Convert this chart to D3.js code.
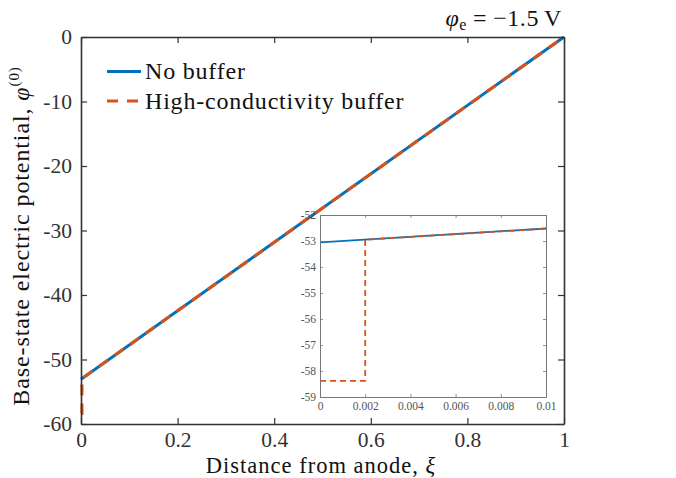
<!DOCTYPE html>
<html><head><meta charset="utf-8">
<script src="https://cdn.jsdelivr.net/npm/d3@7"></script>
</head><body style="margin:0;background:#fff">
<svg id="c" width="676" height="478"></svg>
<script>
const xTicks = [0, 0.2, 0.4, 0.6, 0.8, 1];
const yTicks = [0, -10, -20, -30, -40, -50, -60];
const insetXTicks = [0, 0.002, 0.004, 0.006, 0.008, 0.01];
const insetYTicks = [-52, -53, -54, -55, -56, -57, -58, -59];
const noBufferX = [0, 1];
const noBufferY = [-53.05, 0];
const bufferX = [0, 0.002, 0.002, 1];
const bufferY = [-58.38, -58.38, -52.95, 0];
const seriesNames = ["No buffer", "High-conductivity buffer"];
const colors = ["#0072BD", "#D95319"];

const SERIF = "Liberation Serif";
const svg = d3.select("#c");
const L = 81, R = 564, T = 37, B = 424;
const x = d3.scaleLinear().domain([0, 1]).range([L, R]);
const y = d3.scaleLinear().domain([-60, 0]).range([B, T]);
const axisCol = "#333";

const noBuf = noBufferX.map((v, i) => [v, noBufferY[i]]);
const buf = bufferX.map((v, i) => [v, bufferY[i]]);

// main lines
const line = d3.line().x(d => x(d[0])).y(d => y(d[1]));
svg.append("path").attr("d", line(noBuf)).attr("fill", "none").attr("stroke", colors[0]).attr("stroke-width", 3);
svg.append("path").attr("d", line(buf)).attr("fill", "none").attr("stroke", colors[1]).attr("stroke-width", 3).attr("stroke-dasharray", "11,8");

// axes
const fmtX = d => d === 0 ? "0" : d === 1 ? "1" : d3.format(".1f")(d);
const fmtY = d => d === 0 ? "0" : "-" + Math.abs(d);
const gx = svg.append("g").attr("transform", `translate(0,${B})`).call(d3.axisBottom(x).tickValues(xTicks).tickFormat(fmtX).tickSizeInner(-6).tickSizeOuter(0).tickPadding(8));
const gy = svg.append("g").attr("transform", `translate(${L},0)`).call(d3.axisLeft(y).tickValues(yTicks).tickFormat(fmtY).tickSizeInner(-6).tickSizeOuter(0).tickPadding(9));
const gxt = svg.append("g").attr("transform", `translate(0,${T})`).call(d3.axisTop(x).tickValues(xTicks).tickFormat("").tickSizeInner(-6).tickSizeOuter(0));
const gyr = svg.append("g").attr("transform", `translate(${R},0)`).call(d3.axisRight(y).tickValues(yTicks).tickFormat("").tickSizeInner(-6).tickSizeOuter(0));
[gx, gy, gxt, gyr].forEach(g => {
  g.attr("font-family", null).attr("font-size", null);
  g.selectAll("path.domain").attr("stroke", axisCol).attr("stroke-width", 1.6);
  g.selectAll(".tick line").attr("stroke", axisCol).attr("stroke-width", 1.2);
  g.selectAll("text").style("font-family", SERIF).style("font-size", "21.5px").attr("fill", "#333");
});

// labels
svg.append("text").attr("x", 321).attr("y", 472.5).attr("text-anchor", "middle")
  .style("font-family", SERIF).style("font-size", "22.5px").style("letter-spacing", "1px").attr("fill", "#111")
  .html('Distance from anode, <tspan font-style="italic">ξ</tspan>');
svg.append("text").attr("transform", "translate(29,236) rotate(-90)").attr("text-anchor", "middle")
  .style("font-family", SERIF).style("font-size", "24px").style("letter-spacing", "0.9px").attr("fill", "#111")
  .html('Base-state electric potential, <tspan font-style="italic">φ</tspan><tspan dy="-10" font-size="15">(0)</tspan>');
svg.append("text").attr("x", 562).attr("y", 26).attr("text-anchor", "end")
  .style("font-family", SERIF).style("font-size", "24px").style("letter-spacing", "0.6px").attr("fill", "#111")
  .html('<tspan font-style="italic">φ</tspan><tspan font-size="16" dy="4">e</tspan><tspan dy="-4" dx="6">=</tspan><tspan dx="6">−1.5</tspan><tspan dx="5">V</tspan>');

// legend
seriesNames.forEach((name, i) => {
  const ly = 71.5 + i * 29.5;
  svg.append("line").attr("x1", 107).attr("x2", 141).attr("y1", ly).attr("y2", ly)
    .attr("stroke", colors[i]).attr("stroke-width", 3).attr("stroke-dasharray", i ? "11,9" : null);
  svg.append("text").attr("x", 145).attr("y", ly + 7.5)
    .style("font-family", SERIF).style("font-size", "24px").style("letter-spacing", "0.8px").attr("fill", "#111").text(name);
});

// inset
const iL = 320, iR = 546, iT = 215, iB = 397;
const ix = d3.scaleLinear().domain([0, 0.01]).range([iL, iR]);
const iy = d3.scaleLinear().domain([-59, -52]).range([iB, iT]);
svg.append("rect").attr("x", iL).attr("y", iT).attr("width", iR - iL).attr("height", iB - iT).attr("fill", "#fff");
svg.append("clipPath").attr("id", "ic").append("rect").attr("x", iL).attr("y", iT).attr("width", iR - iL).attr("height", iB - iT);
const iline = d3.line().x(d => ix(d[0])).y(d => iy(d[1]));
const ig = svg.append("g").attr("clip-path", "url(#ic)");
ig.append("path").attr("d", iline(noBuf)).attr("fill", "none").attr("stroke", colors[0]).attr("stroke-width", 1.8);
ig.append("path").attr("d", iline(buf)).attr("fill", "none").attr("stroke", colors[1]).attr("stroke-width", 1.8).attr("stroke-dasharray", "6,4");
const fmtIX = d => d === 0 ? "0" : d3.format(".3~f")(d);
const igx = svg.append("g").attr("transform", `translate(0,${iB})`).call(d3.axisBottom(ix).tickValues(insetXTicks).tickFormat(fmtIX).tickSizeInner(-3).tickSizeOuter(0).tickPadding(5));
const igy = svg.append("g").attr("transform", `translate(${iL},0)`).call(d3.axisLeft(iy).tickValues(insetYTicks).tickFormat(d => "-" + Math.abs(d)).tickSizeInner(-3).tickSizeOuter(0).tickPadding(4));
const igxt = svg.append("g").attr("transform", `translate(0,${iT})`).call(d3.axisTop(ix).tickValues(insetXTicks).tickFormat("").tickSizeInner(-3).tickSizeOuter(0));
const igyr = svg.append("g").attr("transform", `translate(${iR},0)`).call(d3.axisRight(iy).tickValues(insetYTicks).tickFormat("").tickSizeInner(-3).tickSizeOuter(0));
[igx, igy, igxt, igyr].forEach(g => {
  g.attr("font-family", null).attr("font-size", null);
  g.selectAll("path.domain").attr("stroke", "#777").attr("stroke-width", 1);
  g.selectAll(".tick line").attr("stroke", "#777").attr("stroke-width", 0.8);
  g.selectAll("text").style("font-family", SERIF).style("font-size", "11.5px").attr("fill", "#555");
});
</script>
</body></html>
